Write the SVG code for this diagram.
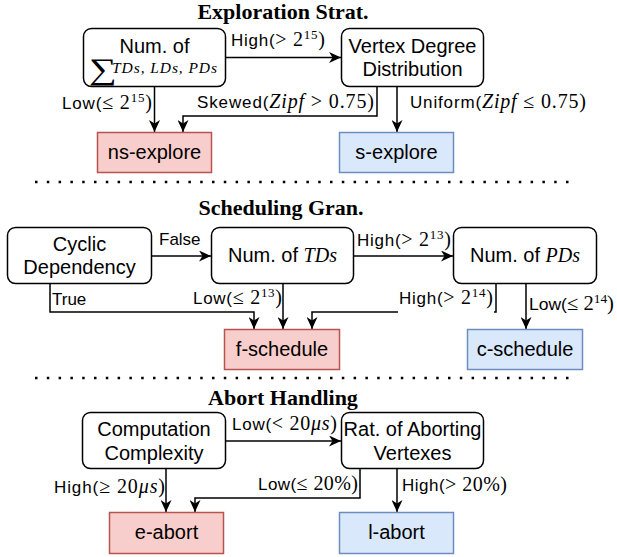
<svg xmlns="http://www.w3.org/2000/svg" width="617" height="557" viewBox="0 0 617 557">
<style>
.n{fill:#fff;stroke:#000;stroke-width:1.5}
.r{fill:#f8cecc;stroke:#b85450;stroke-width:1.5}
.b{fill:#dae8fc;stroke:#6c8ebf;stroke-width:1.5}
.t{font-family:"Liberation Sans",Arial,sans-serif;font-size:20px;text-anchor:middle;fill:#000}
.l{font-family:"Liberation Sans",Arial,sans-serif;font-size:17px;fill:#000}
.m{font-family:"Liberation Serif","Times New Roman",serif;font-size:20px}
.i{font-style:italic}
.s{font-size:13px}
.h{font-family:"Liberation Serif","Times New Roman",serif;font-weight:bold;font-size:22px;text-anchor:middle;fill:#000}
.e{fill:none;stroke:#000;stroke-width:1.5;marker-end:url(#a)}
.d{stroke:#000;stroke-width:2.5;stroke-dasharray:2.5 9.3}
</style>
<defs>
<marker id="a" viewBox="0 0 12 11" refX="12" refY="5.5" markerWidth="12" markerHeight="11" markerUnits="userSpaceOnUse" orient="auto">
<path d="M0,0 L12,5.5 L0,11 L3.5,5.5 Z" fill="#000"/>
</marker>
</defs>
<rect width="617" height="557" fill="#fff"/>

<!-- titles and separators -->
<text class="h" x="283" y="19">Exploration Strat.</text>
<text class="h" x="281" y="215">Scheduling Gran.</text>
<text class="h" x="283" y="405">Abort Handling</text>
<line class="d" x1="35" y1="182" x2="569" y2="182"/>
<line class="d" x1="35" y1="378" x2="569" y2="378"/>

<g id="connectors">
<path class="e" d="M226,57.5 H341"/>
<path class="e" d="M154.5,87 V132"/>
<path class="e" d="M377,87 V116 H183 V132"/>
<path class="e" d="M397,87 V132"/>
<path class="e" d="M152,256 H211"/>
<path class="e" d="M354,256 H453"/>
<path class="e" d="M50,284 V312 H254 V329"/>
<path class="e" d="M283,284 V329"/>
<path class="e" d="M496,284 V312 H312 V329"/>
<path class="e" d="M526,284 V329"/>
<path class="e" d="M226,441 H341"/>
<path class="e" d="M166,469 V512"/>
<path class="e" d="M360,469 V498 H195 V512"/>
<path class="e" d="M397,469 V512"/>
<rect x="398" y="296" width="96" height="17" fill="#fff"/>
<!-- labels -->
<text class="l" x="231" y="46" textLength="94" lengthAdjust="spacing">High(<tspan class="m">&gt; 2</tspan><tspan class="m s" dy="-7">15</tspan><tspan class="m" dy="7">)</tspan></text>
<text class="l" x="152" y="109" text-anchor="end" textLength="90" lengthAdjust="spacing">Low(<tspan class="m">≤ 2</tspan><tspan class="m s" dy="-7">15</tspan><tspan class="m" dy="7">)</tspan></text>
<text class="l" x="197" y="108" textLength="177" lengthAdjust="spacing">Skewed(<tspan class="m i">Zipf</tspan><tspan class="m"> &gt; 0.75)</tspan></text>
<text class="l" x="410" y="108" textLength="176" lengthAdjust="spacing">Uniform(<tspan class="m i">Zipf</tspan><tspan class="m"> ≤ 0.75)</tspan></text>
<text class="l" x="159" y="245">False</text>
<text class="l" x="357" y="246" textLength="94" lengthAdjust="spacing">High(<tspan class="m">&gt; 2</tspan><tspan class="m s" dy="-7">13</tspan><tspan class="m" dy="7">)</tspan></text>
<text class="l" x="52" y="305">True</text>
<text class="l" x="282" y="304" text-anchor="end" textLength="89" lengthAdjust="spacing">Low(<tspan class="m">≤ 2</tspan><tspan class="m s" dy="-7">13</tspan><tspan class="m" dy="7">)</tspan></text>
<text class="l" x="399" y="304" textLength="94" lengthAdjust="spacing">High(<tspan class="m">&gt; 2</tspan><tspan class="m s" dy="-7">14</tspan><tspan class="m" dy="7">)</tspan></text>
<text class="l" x="529" y="310" textLength="85" lengthAdjust="spacingAndGlyphs">Low(<tspan class="m">≤ 2</tspan><tspan class="m s" dy="-7">14</tspan><tspan class="m" dy="7">)</tspan></text>
<text class="l" x="232" y="430" textLength="105" lengthAdjust="spacing">Low(<tspan class="m">&lt; 20</tspan><tspan class="m i">μs</tspan><tspan class="m">)</tspan></text>
<text class="l" x="165" y="493" text-anchor="end" textLength="111" lengthAdjust="spacing">High(<tspan class="m">≥ 20</tspan><tspan class="m i">μs</tspan><tspan class="m">)</tspan></text>
<text class="l" x="258" y="490" textLength="100" lengthAdjust="spacing">Low(<tspan class="m">≤ 20%)</tspan></text>
<text class="l" x="402" y="491" textLength="105" lengthAdjust="spacing">High(<tspan class="m">&gt; 20%)</tspan></text>
</g>

<g id="num-sum">
<rect class="n" x="83.5" y="28.5" width="142" height="58" rx="8"/>
<text class="t" x="154.5" y="53">Num. of</text>
<text x="0" y="0" font-family="'Liberation Serif',serif" font-size="30" transform="translate(89,79) scale(1.3,1)">∑</text>
<text x="112" y="73" font-family="'Liberation Serif',serif" font-size="15.5" font-style="italic" textLength="105" lengthAdjust="spacing">TDs, LDs, PDs</text>
</g>
<g id="vertex-degree">
<rect class="n" x="341.5" y="28.5" width="142" height="58" rx="8"/>
<text class="t" x="412.5" y="53">Vertex Degree</text>
<text class="t" x="412.5" y="76">Distribution</text>
</g>
<g id="ns-explore">
<rect class="r" x="97.5" y="132.5" width="114" height="40"/>
<text class="t" x="154.5" y="159">ns-explore</text>
</g>
<g id="s-explore">
<rect class="b" x="339.5" y="132.5" width="114" height="40"/>
<text class="t" x="396.5" y="159">s-explore</text>
</g>

<g id="cyclic">
<rect class="n" x="7.5" y="227.5" width="144" height="56" rx="8"/>
<text class="t" x="79.5" y="251">Cyclic</text>
<text class="t" x="79.5" y="274">Dependency</text>
</g>
<g id="num-tds">
<rect class="n" x="211.5" y="227.5" width="142" height="56" rx="8"/>
<text class="t" x="282.5" y="262">Num. of <tspan class="m i" font-size="20">TDs</tspan></text>
</g>
<g id="num-pds">
<rect class="n" x="453.5" y="227.5" width="143" height="56" rx="8"/>
<text class="t" x="525" y="262">Num. of <tspan class="m i" font-size="20">PDs</tspan></text>
</g>
<g id="f-schedule">
<rect class="r" x="224.5" y="329.5" width="115" height="40"/>
<text class="t" x="282" y="356">f-schedule</text>
</g>
<g id="c-schedule">
<rect class="b" x="467.5" y="329.5" width="115" height="40"/>
<text class="t" x="525" y="356">c-schedule</text>
</g>

<g id="computation">
<rect class="n" x="82.5" y="412.5" width="143" height="56" rx="8"/>
<text class="t" x="154" y="436">Computation</text>
<text class="t" x="154" y="460">Complexity</text>
</g>
<g id="rat-aborting">
<rect class="n" x="341.5" y="412.5" width="142" height="56" rx="8"/>
<text class="t" x="412.5" y="436">Rat. of Aborting</text>
<text class="t" x="412.5" y="460">Vertexes</text>
</g>
<g id="e-abort">
<rect class="r" x="109.5" y="512.5" width="114" height="41"/>
<text class="t" x="166.5" y="539">e-abort</text>
</g>
<g id="l-abort">
<rect class="b" x="339.5" y="512.5" width="114" height="41"/>
<text class="t" x="396.5" y="539">l-abort</text>
</g>
</svg>
